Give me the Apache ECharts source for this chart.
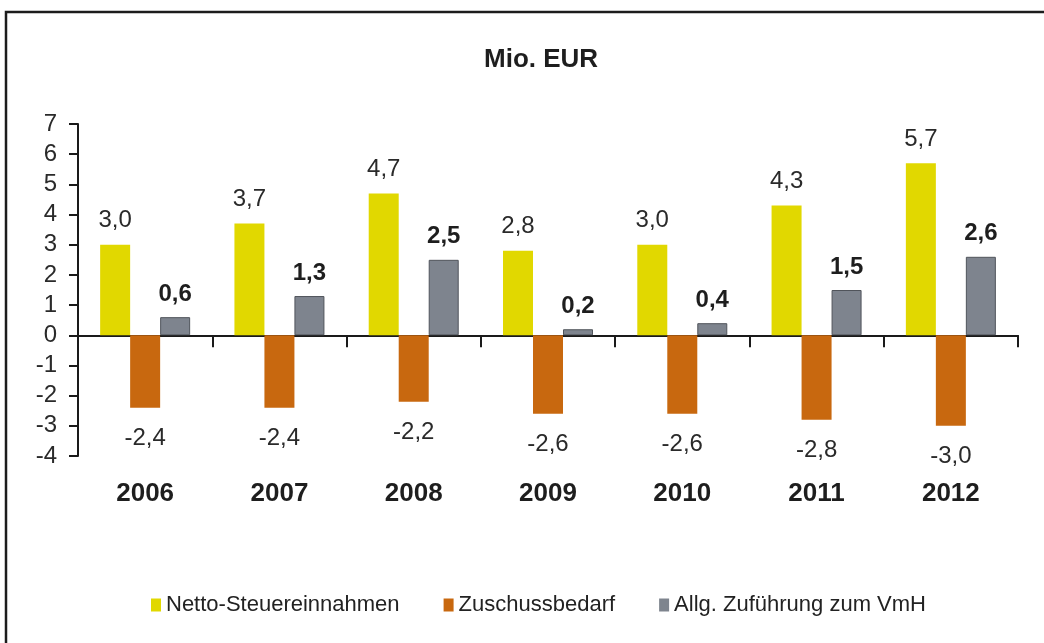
<!DOCTYPE html>
<html>
<head>
<meta charset="utf-8">
<script src="https://cdn.jsdelivr.net/npm/echarts@6/dist/echarts.min.js"></script>
<style>
  html, body { margin: 0; padding: 0; background: #fff; }
  #chart { width: 1044px; height: 643px; }
</style>
</head>
<body>
<div id="chart"></div>
<script>
// Werte aus der Grafik (Mio. EUR)
var years = ["2006", "2007", "2008", "2009", "2010", "2011", "2012"];
var netto = [3.0, 3.7, 4.7, 2.8, 3.0, 4.3, 5.7];
var zuschuss = [-2.4, -2.4, -2.2, -2.6, -2.6, -2.8, -3.0];
var zufuehrung = [0.6, 1.3, 2.5, 0.2, 0.4, 1.5, 2.6];
var seriesNames = ["Netto-Steuereinnahmen", "Zuschussbedarf", "Allg. Zuführung zum VmH"];

var font = "'Liberation Sans', Arial, sans-serif";
var fmt = function (p) {
  return p.value.toFixed(1).replace(".", ",");
};

var myChart = echarts.init(document.getElementById("chart"));
myChart.setOption({
  backgroundColor: "#fff",
  animation: false,
  textStyle: { fontFamily: font },
  title: {
    text: "Mio. EUR",
    left: 479,
    top: 42,
    textStyle: { fontSize: 26, fontWeight: "bold", color: "#1e1e1e", fontFamily: font },
  },
  graphic: [
    {
      type: "rect",
      shape: { x: 6, y: 12, width: 1100, height: 700 },
      style: { fill: "none", stroke: "#1c1c1c", lineWidth: 2.5 },
    },
  ],
  legend: {
    left: 146,
    top: 589,
    icon: "rect",
    itemWidth: 10,
    itemHeight: 13,
    itemGap: 44,
    itemStyle: { borderWidth: 0 },
    textStyle: { fontSize: 22, color: "#222", fontFamily: font },
    data: seriesNames,
  },
  grid: {
    left: 78,
    right: 26,
    top: 124,
    bottom: 187,
  },
  xAxis: [
    {
      type: "category",
      data: years,
      axisLine: { onZero: true, lineStyle: { color: "#1a1a1a", width: 2 } },
      axisTick: { show: true, length: 12, lineStyle: { color: "#1a1a1a", width: 2 } },
      axisLabel: { show: false },
      splitLine: { show: false },
    },
    {
      type: "category",
      data: years,
      position: "bottom",
      axisLine: { show: false, onZero: false },
      axisTick: { show: false },
      axisLabel: {
        margin: 25,
        fontSize: 26,
        fontWeight: "bold",
        color: "#1e1e1e",
        fontFamily: font,
      },
    },
  ],
  yAxis: {
    type: "value",
    min: -4,
    max: 7,
    interval: 1,
    axisLine: { show: true, lineStyle: { color: "#1a1a1a", width: 2 } },
    axisTick: { show: true, length: 9, lineStyle: { color: "#1a1a1a", width: 2 } },
    axisLabel: { fontSize: 24, color: "#2a2a2a", margin: 21, fontFamily: font },
    splitLine: { show: false },
  },
  series: [
    {
      name: seriesNames[0],
      type: "bar",
      data: netto,
      barWidth: 30,
      barGap: "0%",
      itemStyle: { color: "#E1D800" },
      label: {
        show: true,
        position: "top",
        distance: 12,
        fontSize: 24,
        color: "#2a2a2a",
        formatter: fmt,
      },
    },
    {
      name: seriesNames[1],
      type: "bar",
      data: zuschuss,
      barWidth: 30,
      barGap: "0%",
      itemStyle: { color: "#C8680F" },
      label: {
        show: true,
        position: "bottom",
        distance: 19,
        fontSize: 24,
        color: "#2a2a2a",
        formatter: fmt,
      },
    },
    {
      name: seriesNames[2],
      type: "bar",
      data: zufuehrung,
      barWidth: 30,
      barGap: "0%",
      itemStyle: { color: "#7E848E", borderColor: "#50545b", borderWidth: 1 },
      label: {
        show: true,
        position: "top",
        distance: 11,
        fontSize: 24,
        fontWeight: "bold",
        color: "#1e1e1e",
        formatter: fmt,
      },
    },
  ],
});
</script>
</body>
</html>
